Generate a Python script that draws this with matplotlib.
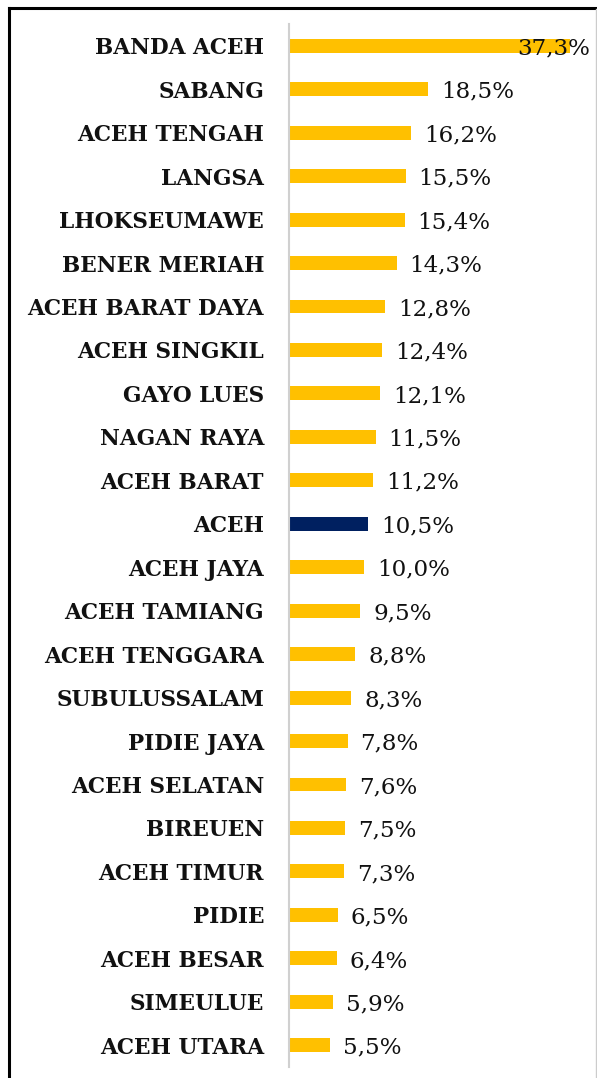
import matplotlib
matplotlib.use("Agg")
import matplotlib.pyplot as plt
from matplotlib.lines import Line2D

regions = ["BANDA ACEH", "SABANG", "ACEH TENGAH", "LANGSA", "LHOKSEUMAWE",
           "BENER MERIAH", "ACEH BARAT DAYA", "ACEH SINGKIL", "GAYO LUES",
           "NAGAN RAYA", "ACEH BARAT", "ACEH", "ACEH JAYA", "ACEH TAMIANG",
           "ACEH TENGGARA", "SUBULUSSALAM", "PIDIE JAYA", "ACEH SELATAN",
           "BIREUEN", "ACEH TIMUR", "PIDIE", "ACEH BESAR", "SIMEULUE",
           "ACEH UTARA"]
values = [37.3, 18.5, 16.2, 15.5, 15.4, 14.3, 12.8, 12.4, 12.1, 11.5, 11.2,
          10.5, 10.0, 9.5, 8.8, 8.3, 7.8, 7.6, 7.5, 7.3, 6.5, 6.4, 5.9, 5.5]
highlight = "ACEH"

W, H = 597, 1078
fig = plt.figure(figsize=(W / 100, H / 100), dpi=100)
ax = fig.add_axes([289 / W, 1 - 1067 / H, (590 - 289) / W, (1067 - 24) / H])

colors = ["#002060" if r == highlight else "#FFC000" for r in regions]
y = list(range(len(regions)))
ax.barh(y, values, height=0.32, color=colors)
ax.set_ylim(len(regions) - 0.5, -0.5)
ax.set_xlim(0, 40)

ax.set_yticks(y)
ax.set_yticklabels(regions, fontfamily="DejaVu Serif", fontweight="bold",
                   fontsize=15.6, color="#111111")
ax.tick_params(axis="y", length=0, pad=18)
ax.set_xticks([])
for s in ["top", "right", "bottom"]:
    ax.spines[s].set_visible(False)
ax.spines["left"].set_color("#d0d0d0")
ax.spines["left"].set_linewidth(1.5)

for yi, v in zip(y, values):
    txt = f"{v:.1f}%".replace(".", ",")
    if v > 30:
        ax.text(40, yi + 0.06, txt, ha="right", va="center", fontsize=16.6,
                fontfamily="DejaVu Serif", color="#111111")
    else:
        ax.text(v + 1.7, yi + 0.06, txt, ha="left", va="center", fontsize=16.6,
                fontfamily="DejaVu Serif", color="#111111")

# frame around the figure
fig.add_artist(Line2D([9 / W, 1], [1 - 8 / H, 1 - 8 / H], color="black", lw=2.2,
                      transform=fig.transFigure))
fig.add_artist(Line2D([9 / W, 9 / W], [0, 1 - 8 / H], color="black", lw=2.2,
                      transform=fig.transFigure))
fig.add_artist(Line2D([596 / W, 596 / W], [0, 1 - 9 / H], color="#cccccc", lw=1,
                      transform=fig.transFigure))

fig.savefig("out.png", dpi=100)
